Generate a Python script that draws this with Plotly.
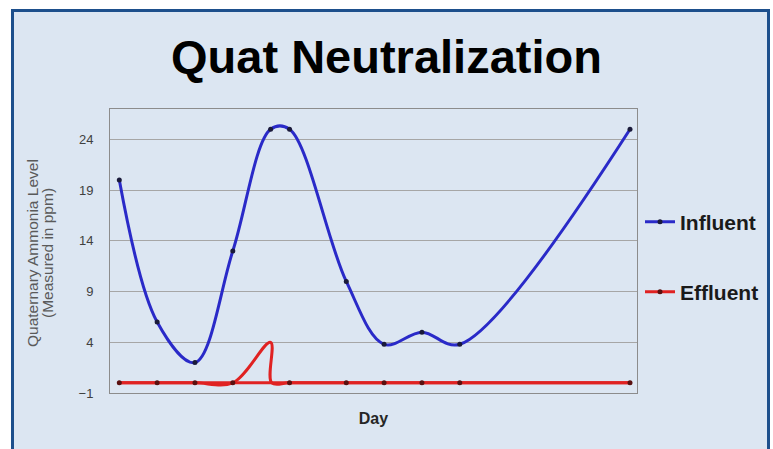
import plotly.graph_objects as go

# ---- data ----
days_influent = [1, 2, 3, 4, 5, 5.5, 7, 8, 9, 10, 14.5]
influent = [20, 6, 2, 13, 25, 25, 10, 3.8, 5, 3.8, 25]

days_effluent = [1, 2, 3, 4, 5, 5.03, 5.5, 7, 8, 9, 10, 14.5]
effluent = [0, 0, 0, 0, 4, 0, 0, 0, 0, 0, 0, 0]
effluent_marker_days = [1, 2, 3, 4, 5.5, 7, 8, 9, 10, 14.5]
effluent_marker_vals = [0, 0, 0, 0, 0, 0, 0, 0, 0, 0]

y_ticks = [-1, 4, 9, 14, 19, 24]
y_title_lines = ["Quaternary Ammonia Level", "(Measured in ppm)"]

FONT = "Liberation Sans, Arial, sans-serif"
BLUE = "#2a2ac8"
RED = "#e02222"

fig = go.Figure()
fig.add_trace(go.Scatter(
    x=days_influent, y=influent, name="Influent", mode="lines+markers",
    line=dict(color=BLUE, width=3, shape="spline", smoothing=1),
    marker=dict(color="#1a1a3a", size=5), legend="legend"))
fig.add_trace(go.Scatter(
    x=days_effluent, y=effluent, name="Effluent", mode="lines",
    line=dict(color=RED, width=3, shape="spline", smoothing=1),
    showlegend=False, legend="legend2"))
fig.add_trace(go.Scatter(
    x=effluent_marker_days, y=effluent_marker_vals, name="Effluent",
    mode="lines+markers", line=dict(color=RED, width=3),
    marker=dict(color="#5a1010", size=5), legend="legend2"))

# outer frame
fig.add_shape(type="rect", xref="paper", yref="paper",
              x0=-0.18501, x1=1.24953, y0=-0.2359, y1=1.34683,
              fillcolor="#dce6f2", line=dict(color="#1d4f8c", width=3),
              layer="below")

# y-axis title as two rotated lines
for xp, txt in zip([-0.1461, -0.1176], y_title_lines):
    fig.add_annotation(text=txt, xref="paper", yref="paper", x=xp, y=0.493,
                       xanchor="center", yanchor="middle", textangle=-90,
                       showarrow=False,
                       font=dict(size=15.5, color="#5a5a5a", family=FONT))

fig.update_layout(
    width=773, height=449,
    margin=dict(l=110, r=136, t=109, b=56, autoexpand=False),
    paper_bgcolor="white", plot_bgcolor="white",
    showlegend=True,
    font=dict(family=FONT, color="#404040"),
    title=dict(text="Quat Neutralization", x=0.5, xref="container", xanchor="center",
               y=1 - 57 / 449, yref="container", yanchor="middle",
               font=dict(size=47, color="black", family=FONT, weight="bold")),
    xaxis=dict(range=[0.754, 14.685], showgrid=False, zeroline=False,
               showticklabels=False, ticks="", showline=True, mirror=True,
               linecolor="#8c8c8c", linewidth=1,
               title=dict(text="Day", standoff=19,
                          font=dict(size=16, color="#262626", family=FONT, weight="bold"))),
    yaxis=dict(range=[-1, 27], tickvals=y_ticks, showgrid=True, gridcolor="#a6a6a6",
               gridwidth=1, zeroline=False, showline=True, mirror=True,
               linecolor="#8c8c8c", linewidth=1, ticks="", ticklabelstandoff=13,
               tickfont=dict(size=13, color="#404040", family=FONT)),
    legend=dict(x=1.0057, xanchor="left", y=0.602, yanchor="middle",
                bgcolor="rgba(0,0,0,0)", font=dict(size=21, color="#1a1a1a", family=FONT, weight="bold")),
    legend2=dict(x=1.0057, xanchor="left", y=0.3556, yanchor="middle",
                 bgcolor="rgba(0,0,0,0)", font=dict(size=21, color="#1a1a1a", family=FONT, weight="bold")),
)

fig.write_html("out.html", config={"displayModeBar": False},
               post_script="document.body.style.margin='0';")
